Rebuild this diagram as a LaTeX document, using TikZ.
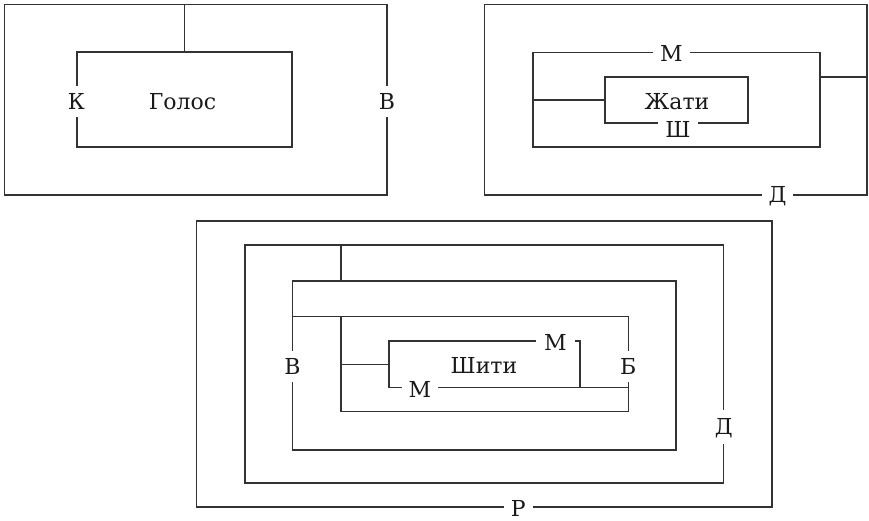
\documentclass[tikz,border=0pt]{standalone}
\usepackage{fontspec}
\setmainfont{DejaVu Serif}
\definecolor{linec}{HTML}{333333}
\definecolor{txtc}{HTML}{1A1A1A}
\tikzset{
  box/.style={draw=linec, line width=1.2pt, inner sep=0pt, outer sep=0pt},
  conn/.style={draw=linec, line width=1.2pt},
  lab/.style={fill=white, text=txtc, font=\fontsize{22}{26}\selectfont,
    inner xsep=7pt, inner ysep=8pt, text height=15.5pt, text depth=0pt},
  word/.style={text=txtc, font=\fontsize{22}{26}\selectfont, inner sep=0pt,
    text height=15.5pt, text depth=0pt}
}
\begin{document}
\begin{tikzpicture}[x=1pt, y=-1pt]
\useasboundingbox (0,0) rectangle (869,521);
% ---------- Figure 1 ----------
\node[box, minimum width=382.5pt, minimum height=190.3pt] (g0) at (195.75,99.85) {};
\node[box, minimum width=215pt, minimum height=95pt] (g1) at (184.5,99.5) {};
\draw[conn] (g1.north) -- (g1.north |- g0.north);
\node[word] (golos) at (182.5,102) {Голос};
\node[lab] (k) at (76.5,101.5) {К};
\node[lab] (v1) at (387,101.5) {В};
% ---------- Figure 2 ----------
\node[box, minimum width=382.3pt, minimum height=190.3pt] (j0) at (675.85,99.85) {};
\node[box, minimum width=287pt, minimum height=94.3pt] (j1) at (676.5,99.85) {};
\node[box, minimum width=143pt, minimum height=46pt] (j2) at (676.5,100) {};
\draw[conn] (j2.west) -- (j2.west -| j1.west);
\draw[conn] (j1.east |- j2.north) -- (j0.east |- j2.north);
\node[word] (zhati) at (677,101.5) {Жати};
\node[lab] (m1) at (671.3,53.5) {М};
\node[lab, inner ysep=0pt] (sh) at (678,129.5) {Ш};
\node[lab, inner ysep=4pt] (d1) at (777.5,195) {Д};
% ---------- Figure 3 ----------
\node[box, minimum width=575.3pt, minimum height=286pt] (r1) at (484.35,364) {};
\node[box, minimum width=478.7pt, minimum height=238pt] (r2) at (484.35,364) {};
\node[box, minimum width=383.3pt, minimum height=169pt] (r3) at (484.35,365.5) {};
\node[box, minimum width=287.3pt, minimum height=95pt] (r4) at (484.65,364.2) {};
\node[box, minimum width=191pt, minimum height=46.3pt] (r5) at (484.5,364.15) {};
\draw[conn] (r2.north -| r4.west) -- (r3.north -| r4.west);
\draw[conn] (r3.west |- r4.north west) -- (r4.north west);
\draw[conn] (r4.west |- r5.west) -- (r5.west);
\draw[conn] (r5.south east) -- (r5.south east -| r4.east);
\node[word] (shiti) at (484,366) {Шити};
\node[lab, inner xsep=8pt] (m2) at (555.5,342.5) {М};
\node[lab, inner ysep=4pt] (m3) at (420,390) {М};
\node[lab] (v2) at (292.5,366.5) {В};
\node[lab] (b) at (628.3,366.5) {Б};
\node[lab, inner ysep=9pt] (d2) at (723.7,427) {Д};
\node[lab, inner ysep=4pt] (r) at (518.3,509) {Р};
\end{tikzpicture}
\end{document}
